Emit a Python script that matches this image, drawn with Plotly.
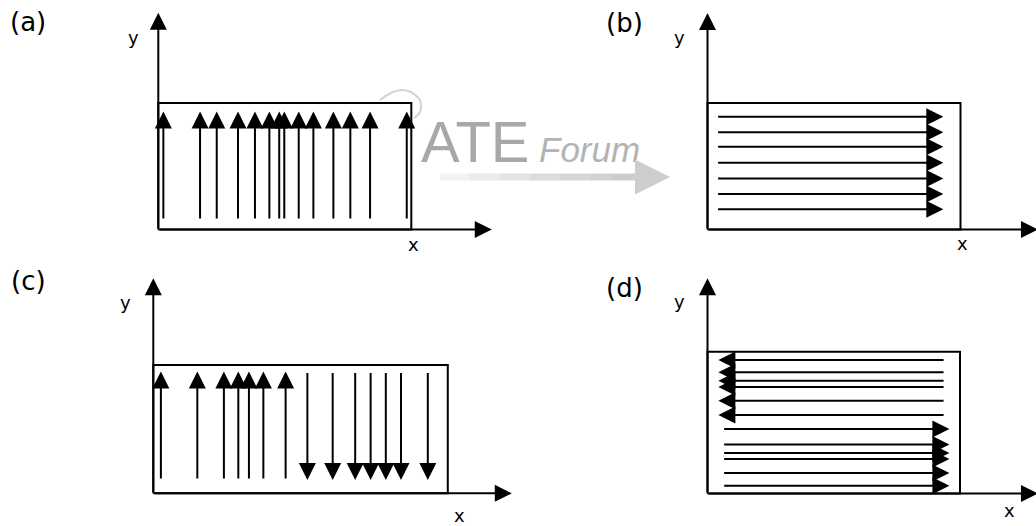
import plotly.graph_objects as go

# ---------------- data (units: panel coordinate units, origin at axis corner) ----------------
panel_labels = ["(a)", "(b)", "(c)", "(d)"]

# (a) uniform upward arrows
a_rect = [10.0, 5.0]
a_up_x = [0.20, 1.65, 2.31, 3.15, 3.82, 4.39, 4.78, 4.98, 5.55, 6.13, 6.92, 7.59, 8.37, 9.82]
a_y0, a_y1 = 0.38, 4.66

# (b) rightward arrows
b_rect = [10.0, 5.0]
b_right_y = [4.46, 3.84, 3.27, 2.64, 2.02, 1.40, 0.80]
b_x0, b_x1 = 0.36, 9.32

# (c) up arrows on the left, down arrows on the right
c_rect = [11.64, 5.07]
c_up_x = [0.30, 1.74, 2.79, 3.36, 3.78, 4.35, 5.23]
c_down_x = [6.09, 7.09, 7.98, 8.59, 9.19, 9.79, 10.85]
c_lo, c_hi = 0.53, 4.81

# (d) leftward arrows on top, rightward below
d_rect = [9.98, 5.60]
d_left_y = [5.28, 4.79, 4.46, 4.21, 3.67, 3.10]
d_left_from, d_left_to = 9.39, 0.43
d_right_y = [2.55, 1.94, 1.60, 1.36, 0.81, 0.31]
d_right_from, d_right_to = 0.60, 9.56

# axis arrow tips (x tip, y tip) and label positions per panel
axis_tips = [(13.18, 8.57), (13.06, 8.56), (14.17, 8.50), (13.06, 8.51)]
ylab_pos = [(-1.0, 7.57), (-1.12, 7.57), (-1.08, 7.56), (-1.09, 7.57)]
xlab_pos = [(10.07, -0.61), (10.06, -0.57), (12.12, -0.86), (11.92, -0.69)]
tag_pos = [(-5.15, 8.20), (-3.30, 8.17), (-4.95, 8.40), (-3.30, 8.12)]

# ---------------- layout geometry ----------------
W, H = 1036, 526
S = 25.3  # pixels per unit
origins = [(158.3, 229.5), (707.5, 229.5), (153.3, 493.3), (707.5, 493.5)]
quads = [(0, 518, 0, 263), (518, 1036, 0, 263), (0, 518, 263, 526), (518, 1036, 263, 526)]

fig = go.Figure()
layout_axes = {}
for i, ((ox, oy), (qx0, qx1, qy0, qy1)) in enumerate(zip(origins, quads)):
    sfx = "" if i == 0 else str(i + 1)
    layout_axes["xaxis" + sfx] = dict(domain=[qx0 / W, qx1 / W],
                                      range=[(qx0 - ox) / S, (qx1 - ox) / S],
                                      visible=False, fixedrange=True,
                                      anchor="y" + sfx)
    layout_axes["yaxis" + sfx] = dict(domain=[1 - qy1 / H, 1 - qy0 / H],
                                      range=[(oy - qy1) / S, (oy - qy0) / S],
                                      visible=False, fixedrange=True,
                                      anchor="x" + sfx)

rects = [a_rect, b_rect, c_rect, d_rect]
annotations = []
BLACK = "#000000"
HEAD = 1.7


def arrow(xr, yr, x0, y0, x1, y1, width=2, size=HEAD, color=BLACK):
    return dict(xref=xr, yref=yr, axref=xr, ayref=yr, x=x1, y=y1, ax=x0, ay=y0,
                text="", showarrow=True, arrowhead=2, arrowsize=size,
                arrowwidth=width, arrowcolor=color, standoff=0, startstandoff=0)


def label(xr, yr, x, y, text, size):
    return dict(xref=xr, yref=yr, x=x, y=y, text=text, showarrow=False,
                xanchor="center", yanchor="middle",
                font=dict(family="DejaVu Sans", size=size, color=BLACK))


for i in range(4):
    sfx = "" if i == 0 else str(i + 1)
    xr, yr = "x" + sfx, "y" + sfx
    w, h = rects[i]
    fig.add_trace(go.Scatter(x=[0, w, w, 0, 0], y=[0, 0, h, h, 0], mode="lines",
                             line=dict(color=BLACK, width=2), xaxis=xr, yaxis=yr,
                             hoverinfo="skip", showlegend=False))
    xt, yt = axis_tips[i]
    annotations.append(arrow(xr, yr, 0, 0, 0, yt))
    annotations.append(arrow(xr, yr, 0, 0, xt, 0))
    annotations.append(label(xr, yr, ylab_pos[i][0], ylab_pos[i][1], "y", 18))
    annotations.append(label(xr, yr, xlab_pos[i][0], xlab_pos[i][1], "x", 18))
    annotations.append(label(xr, yr, tag_pos[i][0], tag_pos[i][1], panel_labels[i], 26))

for x in a_up_x:
    annotations.append(arrow("x", "y", x, a_y0, x, a_y1))
for y in b_right_y:
    annotations.append(arrow("x2", "y2", b_x0, y, b_x1, y))
for x in c_up_x:
    annotations.append(arrow("x3", "y3", x, c_lo, x, c_hi))
for x in c_down_x:
    annotations.append(arrow("x3", "y3", x, c_hi, x, c_lo))
for y in d_left_y:
    annotations.append(arrow("x4", "y4", d_left_from, y, d_left_to, y))
for y in d_right_y:
    annotations.append(arrow("x4", "y4", d_right_from, y, d_right_to, y))

# faint watermark ("GATE Forum" logo)
annotations.append(dict(xref="paper", yref="paper", x=475 / W, y=1 - 141 / H, text="ATE",
                        xanchor="center", yanchor="middle", showarrow=False,
                        font=dict(family="Liberation Sans", size=58, color="#a8a8a8")))
annotations.append(dict(xref="paper", yref="paper", x=589 / W, y=1 - 149 / H, text="<i>Forum</i>",
                        xanchor="center", yanchor="middle", showarrow=False,
                        font=dict(family="Liberation Sans", size=35, color="#b3b3b3")))
annotations.append(dict(xref="paper", yref="paper", x=670 / W, y=1 - 177 / H, ax=-60, ay=0,
                        text="", showarrow=True, arrowhead=2, arrowsize=1.0, arrowwidth=7,
                        arrowcolor="#cdcdcd", standoff=0))

shapes = [dict(type="path", xref="paper", yref="paper", layer="below",
               path=f"M {380/W},{1-100/H} Q {405/W},{1-80/H} {420/W},{1-100/H} Q {424/W},{1-112/H} {414/W},{1-118/H}",
               line=dict(color="#d3d3d3", width=2))]
# fading shaft of the watermark arrow
fade_cols = ["#f2f2f2", "#ebebeb", "#e3e3e3", "#dcdcdc", "#d6d6d6", "#d1d1d1"]
seg_x = [440, 470, 500, 530, 560, 590, 612]
for k, col in enumerate(fade_cols):
    shapes.append(dict(type="line", xref="paper", yref="paper",
                       x0=seg_x[k] / W, x1=seg_x[k + 1] / W, y0=1 - 177 / H, y1=1 - 177 / H,
                       line=dict(color=col, width=7)))

fig.update_layout(width=W, height=H, margin=dict(l=0, r=0, t=0, b=0),
                  paper_bgcolor="white", plot_bgcolor="rgba(0,0,0,0)",
                  annotations=annotations, shapes=shapes, showlegend=False,
                  **layout_axes)

fig.write_html("out.html", config={"displayModeBar": False},
               post_script="document.body.style.margin='0';document.body.style.overflow='hidden';")
